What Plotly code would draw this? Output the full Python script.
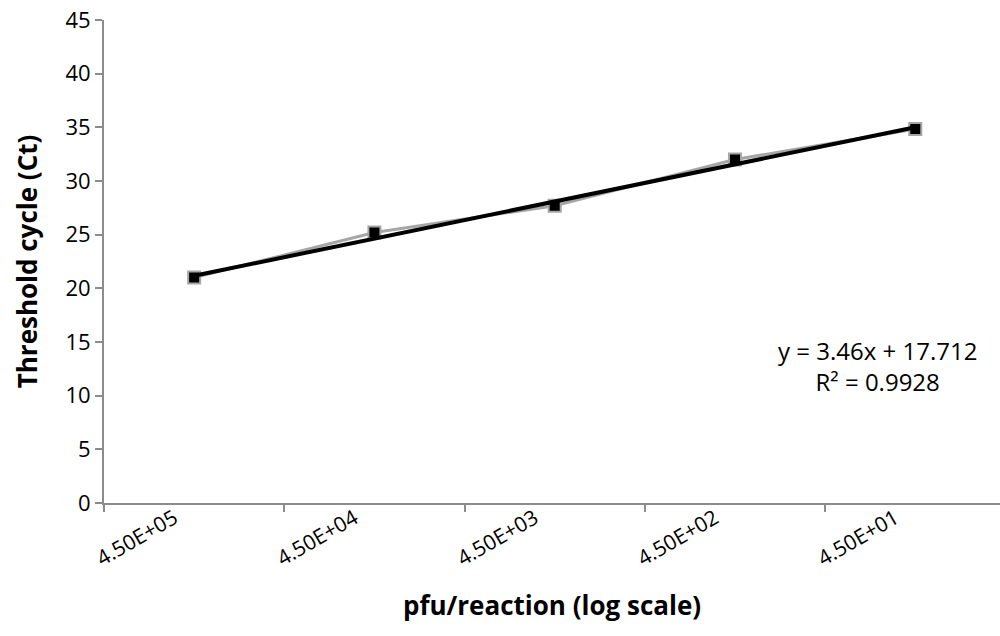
import plotly.graph_objects as go

categories = ["4.50E+05", "4.50E+04", "4.50E+03", "4.50E+02", "4.50E+01"]
ct_values = [21.0, 25.2, 27.7, 32.0, 34.85]
slope = 3.46
intercept = 17.712
r_squared = 0.9928
y_ticks = [0, 5, 10, 15, 20, 25, 30, 35, 40, 45]

trend_x = [categories[0], categories[-1]]
trend_y = [slope * 1 + intercept, slope * len(categories) + intercept]

FONT = "Open Sans"
fig = go.Figure()
fig.add_trace(go.Scatter(
    x=categories, y=ct_values, mode="lines+markers",
    line=dict(color="#A6A6A6", width=3),
    marker=dict(symbol="square", size=12, color="black",
                line=dict(color="#A6A6A6", width=2)),
    showlegend=False, hoverinfo="skip"))
fig.add_trace(go.Scatter(
    x=trend_x, y=trend_y, mode="lines",
    line=dict(color="black", width=4),
    showlegend=False, hoverinfo="skip"))

L, T, B = 104, 20, 133
fig.update_layout(
    width=1000, height=636,
    margin=dict(l=L, r=0, t=T, b=B),
    plot_bgcolor="white", paper_bgcolor="white",
    font=dict(family=FONT, size=22, color="black"),
    xaxis=dict(
        type="category", categoryorder="array", categoryarray=categories,
        range=[-0.5, 4.47], tickson="boundaries", ticks="outside",
        ticklen=7, tickwidth=2, tickcolor="#8C8C8C",
        showline=True, linecolor="#8C8C8C", linewidth=2,
        showgrid=False, zeroline=False, tickangle=-30,
        tickfont=dict(size=21), ticklabelshift=-20, ticklabelstandoff=-7,
        title=dict(text="<b>pfu/reaction (log scale)</b>", font=dict(size=26), standoff=26),
    ),
    yaxis=dict(
        range=[0, 45], tickvals=y_ticks, ticks="outside",
        ticklen=7, tickwidth=2, tickcolor="#8C8C8C",
        showline=True, linecolor="#8C8C8C", linewidth=2,
        showgrid=False, zeroline=False, tickfont=dict(size=22),
        title=dict(text="<b>Threshold cycle (Ct)</b>", font=dict(size=26), standoff=20),
    ),
)

plot_w = 1000 - L
plot_h = 636 - T - B
fig.add_annotation(
    x=(877 - L) / plot_w, y=(503 - 366) / plot_h, xref="paper", yref="paper",
    xanchor="center", yanchor="middle", showarrow=False,
    text=f"y = {slope}x + {intercept}<br>R² = {r_squared}",
    font=dict(size=24, family=FONT), align="center")

fig.write_html("out.html", config={"displayModeBar": False},
               post_script="document.body.style.margin='0';")
